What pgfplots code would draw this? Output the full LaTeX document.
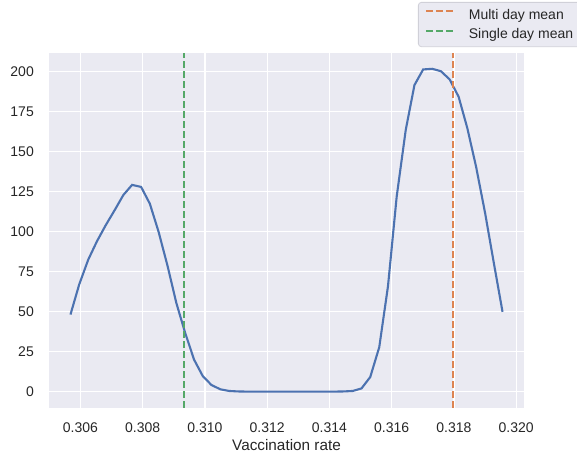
\documentclass[border=0pt]{standalone}
\usepackage{pgfplots}
\pgfplotsset{compat=1.18}
\usepackage{fontspec}
\setmainfont{Liberation Sans}
\definecolor{sbblue}{HTML}{4C72B0}
\definecolor{sborange}{HTML}{DD8452}
\definecolor{sbgreen}{HTML}{55A868}
\definecolor{sbbg}{HTML}{EAEAF2}
\definecolor{sbtext}{HTML}{262626}
\definecolor{legedge}{HTML}{D0D0D8}
\begin{document}
\begin{tikzpicture}[x=1pt,y=1pt]
\path[use as bounding box] (0,0) rectangle (577,454);
\begin{axis}[
  at={(49pt,46.3pt)}, anchor=south west,
  scale only axis, width=475pt, height=354.4pt,
  xmin=0.30499, xmax=0.32025, ymin=-10.07, ymax=211.6,
  axis background/.style={fill=sbbg},
  axis line style={draw=none},
  major tick length=0pt,
  grid=major,
  major grid style={white, line width=1.27pt},
  xtick={0.306,0.308,0.310,0.312,0.314,0.316,0.318,0.320},
  ytick={0,25,50,75,100,125,150,175,200},
  scaled x ticks=false,
  /pgf/number format/assume math mode=true,
  xticklabel style={/pgf/number format/.cd, fixed, fixed zerofill, precision=3, /tikz/.cd,
     anchor=north, inner sep=0pt, yshift=-15pt},
  yticklabel style={anchor=east, inner sep=0pt, xshift=-15pt},
  ticklabel style={font=\fontsize{14}{16}\selectfont, text=sbtext},
  xlabel={Vaccination rate},
  xlabel style={at={(axis description cs:0.5,0)}, anchor=north, inner sep=0pt, yshift=-32pt,
     font=\fontsize{15.3}{17}\selectfont, text=sbtext},
  legend style={at={(0.7768,1.1448)}, anchor=north west, fill=sbbg, draw=legedge,
     line width=0.8pt, rounded corners=3pt, inner xsep=7pt, inner ysep=6.5pt,
     font=\fontsize{14}{16}\selectfont, text=sbtext,
     nodes={inner sep=0pt}, column sep=12.5pt, row sep=8pt},
  legend cell align=left,
  legend image code/.code={\draw[#1, line width=2pt] (0pt,0.35em) -- (29pt,0.35em);},
]
\addplot[sbblue, line width=2.1pt, forget plot] coordinates {
(0.30568,48.2) (0.30596,67) (0.30625,82.5) (0.30653,94) (0.30681,104)
(0.30710,113.5) (0.30738,123) (0.30766,129.3) (0.30795,128) (0.30823,117.5)
(0.30851,100) (0.30880,78.5) (0.30908,55.5) (0.30936,37) (0.30965,20)
(0.30993,9.7) (0.31021,4.1) (0.31050,1.4) (0.31078,0.4) (0.31106,0.1)
(0.31135,0) (0.31163,0) (0.31191,0) (0.31220,0) (0.31248,0)
(0.31276,0) (0.31305,0) (0.31333,0) (0.31361,0) (0.31390,0)
(0.31418,0) (0.31446,0.1) (0.31475,0.4) (0.31503,2) (0.31531,9.1)
(0.31560,27.8) (0.31588,65.9) (0.31616,122) (0.31645,163.6) (0.31673,191.7)
(0.31701,201.5) (0.31730,201.9) (0.31758,200.4) (0.31786,195.3) (0.31815,184.4)
(0.31843,164.7) (0.31871,140.7) (0.31900,111.7) (0.31928,80.5) (0.31956,49.9)
};
\addplot[sborange, line width=2pt, dash pattern=on 7pt off 3pt] coordinates {(0.31796,-10.07) (0.31796,211.6)};
\addlegendentry{Multi day mean}
\addplot[sbgreen, line width=2pt, dash pattern=on 7pt off 3pt] coordinates {(0.30934,-10.07) (0.30934,211.6)};
\addlegendentry{Single day mean}
\end{axis}
\end{tikzpicture}
\end{document}
